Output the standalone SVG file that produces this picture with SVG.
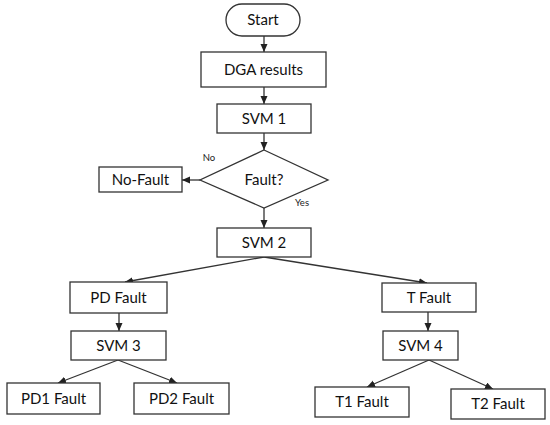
<svg xmlns="http://www.w3.org/2000/svg" width="550" height="425" viewBox="0 0 550 425">
<defs>
<style>
.box{fill:#fff;stroke:#333;stroke-width:1.3}
.lbl{font-family:Lato,"Liberation Sans",Arial,sans-serif;font-size:15px;fill:#111;text-anchor:middle}
.sm{font-family:Lato,"Liberation Sans",Arial,sans-serif;font-size:9.5px;fill:#222;text-anchor:middle}
.con{stroke:#333;stroke-width:1.3;fill:none;marker-end:url(#ah)}
</style>
<marker id="ah" markerUnits="userSpaceOnUse" markerWidth="9" markerHeight="8" refX="8" refY="3.5" orient="auto">
<path d="M0,0 L8,3.5 L0,7 z" fill="#222"/>
</marker>
</defs>
<rect width="550" height="425" fill="#fff"/>
<g id="connectors">
<line class="con" x1="264" y1="36" x2="264" y2="52"/>
<line class="con" x1="264" y1="87" x2="264" y2="104"/>
<line class="con" x1="264" y1="133" x2="264" y2="150"/>
<line class="con" x1="200" y1="180" x2="182" y2="180"/>
<line class="con" x1="264" y1="208" x2="264" y2="228"/>
<line class="con" x1="264" y1="257" x2="125" y2="282"/>
<line class="con" x1="264" y1="257" x2="427" y2="283"/>
<line class="con" x1="119" y1="313" x2="119" y2="331"/>
<line class="con" x1="428" y1="312" x2="428" y2="331"/>
<line class="con" x1="118" y1="360" x2="58" y2="383"/>
<line class="con" x1="118" y1="360" x2="177" y2="383"/>
<line class="con" x1="429" y1="360" x2="367" y2="387"/>
<line class="con" x1="429" y1="360" x2="493" y2="389"/>
<text class="sm" x="209" y="161">No</text>
<text class="sm" x="302" y="206">Yes</text>
</g>
<g id="start"><rect class="box" x="226" y="4" width="74" height="32" rx="16"/><text class="lbl" x="263" y="25">Start</text></g>
<g id="dga"><rect class="box" x="201" y="52" width="125" height="35"/><text class="lbl" x="263.5" y="74.5">DGA results</text></g>
<g id="svm1"><rect class="box" x="217" y="104" width="94" height="29"/><text class="lbl" x="264" y="123.5">SVM 1</text></g>
<g id="fault"><polygon class="box" points="264,150 328,180 264,208 200,180"/><text class="lbl" x="264" y="185">Fault?</text></g>
<g id="nofault"><rect class="box" x="99" y="167" width="83" height="25"/><text class="lbl" x="140.5" y="184.5">No-Fault</text></g>
<g id="svm2"><rect class="box" x="217" y="228" width="94" height="29"/><text class="lbl" x="264" y="247.5">SVM 2</text></g>
<g id="pdfault"><rect class="box" x="70" y="282" width="97" height="31"/><text class="lbl" x="118.5" y="302.5">PD Fault</text></g>
<g id="tfault"><rect class="box" x="382" y="283" width="94" height="29"/><text class="lbl" x="429" y="302.5">T Fault</text></g>
<g id="svm3"><rect class="box" x="71" y="331" width="95" height="29"/><text class="lbl" x="118.5" y="350.5">SVM 3</text></g>
<g id="svm4"><rect class="box" x="383" y="331" width="75" height="29"/><text class="lbl" x="420.5" y="350.5">SVM 4</text></g>
<g id="pd1"><rect class="box" x="7" y="383" width="93" height="31"/><text class="lbl" x="53.5" y="403.5">PD1 Fault</text></g>
<g id="pd2"><rect class="box" x="134" y="383" width="95" height="31"/><text class="lbl" x="181.5" y="403.5">PD2 Fault</text></g>
<g id="t1"><rect class="box" x="315" y="387" width="94" height="30"/><text class="lbl" x="362" y="407">T1 Fault</text></g>
<g id="t2"><rect class="box" x="451" y="389" width="94" height="30"/><text class="lbl" x="498" y="409">T2 Fault</text></g>
</svg>
